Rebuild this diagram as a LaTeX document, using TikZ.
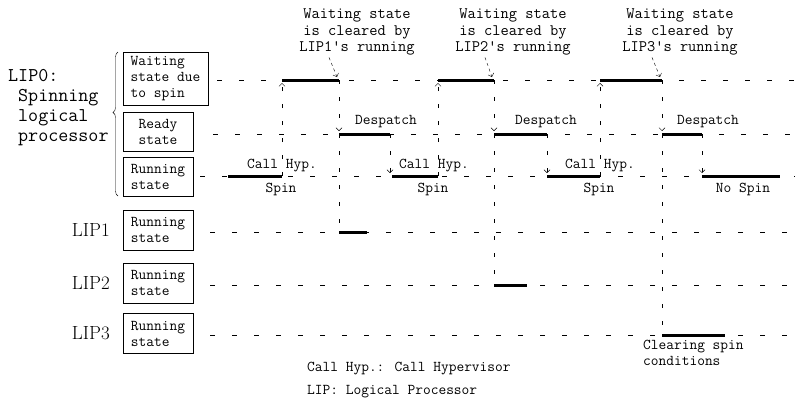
\documentclass[tikz,border=0pt]{standalone}
\usepackage{xcolor}
\usepackage{tikz}
\usetikzlibrary{arrows.meta, decorations.pathreplacing}
\usetikzlibrary{calc,positioning}

\tikzset{
  gridline/.style={dash pattern=on 5pt off 17pt},
  vline/.style={dash pattern=on 4pt off 13pt},
  pointer/.style={dash pattern=on 3pt off 3pt},
  busy/.style={line width=3pt},
  statebox/.style={draw, thick, align=left, inner sep=2pt,
    font=\ttfamily\fontsize{15}{16}\selectfont},
  txt/.style={font=\ttfamily\fontsize{15}{16}\selectfont, inner sep=0pt},
  note/.style={font=\ttfamily\fontsize{16}{16.5}\selectfont, align=center, inner sep=0pt},
  lipname/.style={font=\rmfamily\fontsize{19}{20}\selectfont, inner sep=0pt},
  lipzero/.style={font=\ttfamily\fontsize{19.5}{20}\selectfont, align=left, inner sep=0pt}
}

\begin{document}
\begin{tikzpicture}[x=1pt, y=-1pt, >={Straight Barb[length=3pt,width=6pt]}]
    \useasboundingbox (0,0) rectangle (801,408);

    % Left labels
    \node[lipzero, anchor=north west] (lip0) at (8,69)
      {LIP0:\\\hspace*{10pt}Spinning\\\hspace*{10pt}logical\\\hspace*{10pt}processor};
    \draw[decorate, decoration={brace, amplitude=5pt, aspect=0.58}] (118,196) -- (118,52);

    % State boxes
    \node[statebox, minimum width=85pt, minimum height=53pt] (waitbox) at (165.5,78.5) {Waiting\\state due\\to spin};
    \node[statebox, minimum width=70pt, minimum height=39pt] (readybox) at (158,131.5) {Ready\\state};
    \node[statebox, minimum width=70pt, minimum height=39pt] (runbox) at (158,176.5) {Running\\state};
    \foreach \i/\y in {1/230, 2/283, 3/333.5} {
        \node[statebox, minimum width=70pt, minimum height=40pt] (lipbox\i) at (158,\y) {Running\\state};
        \node[lipname, anchor=east] (lipname\i) at (110,\y) {LIP\i};
    }

    % Rows
    \foreach \x/\y in {217/80, 213/134, 200/176, 210/232, 210/285, 210/335}
        \draw[gridline] (\x,\y) -- (795,\y);

    % Running -> waiting
    \foreach \x in {282, 438, 600}
        \draw[vline, ->] (\x,176) -- (\x,83);
    % Waiting -> ready, down to the LIP that runs
    \foreach \x/\y in {339/232, 494/285, 662/335} {
        \draw[vline, ->] (\x,80) -- (\x,131);
        \draw[vline] (\x,134) -- (\x,\y);
    }
    % Ready -> running
    \foreach \x in {390, 547, 702}
        \draw[vline, ->] (\x,134) -- (\x,173);

    % Busy periods
    \foreach \a/\b/\y in {228/282/176, 392/438/176, 547/600/176, 702/780/176,
                          282/339/80, 438/494/80, 600/662/80,
                          339/390/134, 494/547/134, 662/702/134,
                          339/367/232, 494/527/285, 662/725/335}
        \draw[busy] (\a,\y) -- (\b,\y);

    % Labels on the bars
    \foreach \x/\n in {282/a, 434/b, 600/c} {
        \node[txt] (call\n) at (\x,166) {Call Hyp.};
        \node[txt] (spin\n) at (\x-1,189) {Spin};
    }
    \node[txt] (nospin) at (743,189) {No Spin};
    \foreach \x/\n in {386/a, 546/b, 708/c}
        \node[txt] (desp\n) at (\x,122) {Despatch};

    % Notes
    \foreach \x/\i/\t in {357/1/339, 513/2/494, 680/3/662} {
        \node[note] (note\i) at (\x,32) {Waiting state\\is cleared by\\LIP\i's running};
        \draw[pointer, ->] ($(note\i.south)+(-28,2)$) -- (\t-2,77);
    }

    \node[txt, anchor=north west, align=left] (clear) at (643,340) {Clearing spin\\conditions};

    % Legend
    \node[txt, anchor=west] (leg1) at (307,369) {Call Hyp.: Call Hypervisor};
    \node[txt, anchor=west] (leg2) at (307,392) {LIP: Logical Processor};
\end{tikzpicture}
\end{document}
